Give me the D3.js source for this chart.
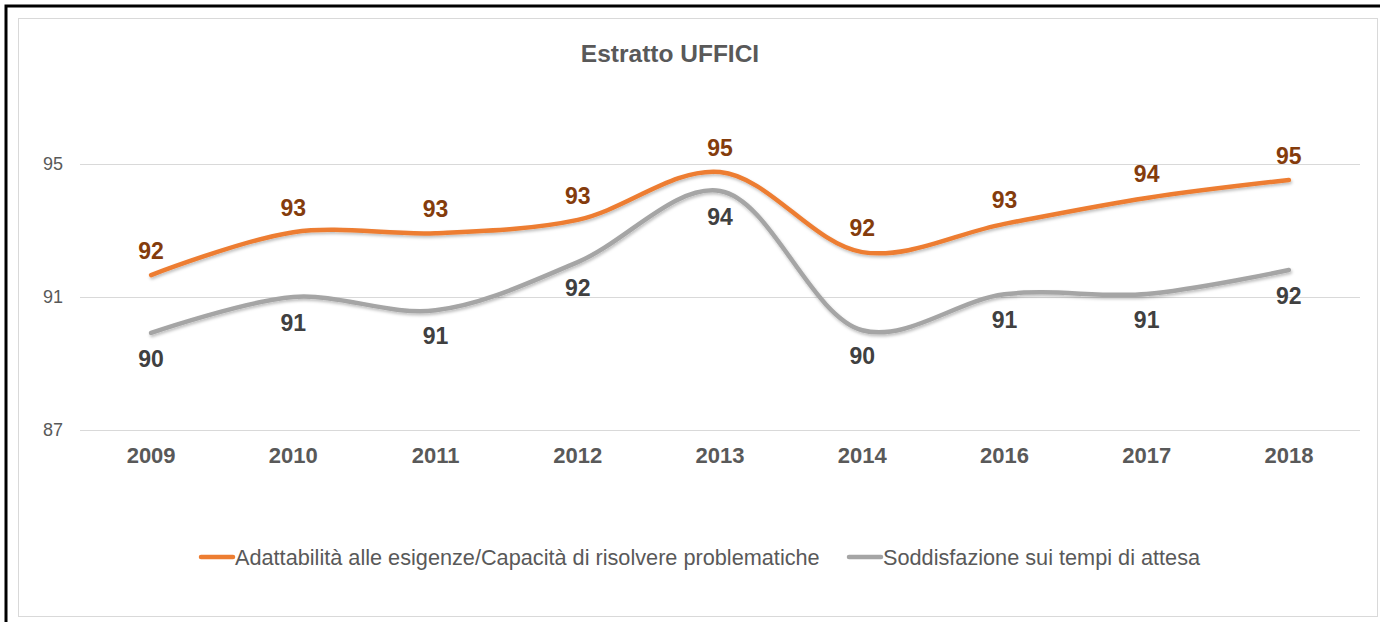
<!DOCTYPE html>
<html>
<head>
<meta charset="utf-8">
<script src="https://cdn.jsdelivr.net/npm/d3@7"></script>
<style>
  body { margin: 0; background: #fff; }
  svg { display: block; font-family: "Liberation Sans", Arial, sans-serif; }
</style>
</head>
<body>
<svg id="chart" width="1380" height="622"></svg>
<script>
var years = ['2009', '2010', '2011', '2012', '2013', '2014', '2016', '2017', '2018'];
var adattabilita = [91.66, 92.95, 92.92, 93.32, 94.76, 92.35, 93.2, 93.98, 94.52];
var soddisfazione = [89.92, 91.0, 90.6, 92.05, 94.19, 90.0, 91.08, 91.09, 91.81];
var yTicks = [87, 91, 95];
var seriesNames = [
  'Adattabilità alle esigenze/Capacità di risolvere problematiche',
  'Soddisfazione sui tempi di attesa'
];

var svg = d3.select('#chart');
var margin = { top: 164, right: 20, bottom: 192, left: 80 };
var width = 1360 - margin.left;
var height = 430 - margin.top;

// frames
svg.append('rect').attr('x', 6).attr('y', 6)
  .attr('width', 1400).attr('height', 640)
  .attr('fill', 'none').attr('stroke', '#000').attr('stroke-width', 3);
svg.append('rect').attr('x', 18.5).attr('y', 18.5)
  .attr('width', 1359).attr('height', 598)
  .attr('fill', '#fff').attr('stroke', '#d9d9d9').attr('stroke-width', 1);

var defs = svg.append('defs');
defs.append('filter').attr('id', 'shadow')
  .attr('x', '-5%').attr('y', '-20%').attr('width', '110%').attr('height', '140%')
  .append('feDropShadow')
  .attr('dx', 1).attr('dy', 2).attr('stdDeviation', 1.5)
  .attr('flood-color', '#000').attr('flood-opacity', 0.25);

var x = d3.scaleBand().domain(years).range([0, width]);
var y = d3.scaleLinear().domain([87, 95]).range([height, 0]);

var g = svg.append('g').attr('transform', 'translate(' + margin.left + ',' + margin.top + ')');

// gridlines
g.selectAll('.grid').data(yTicks).enter().append('line')
  .attr('x1', 0).attr('x2', width)
  .attr('y1', function(d) { return y(d) + 0.5; })
  .attr('y2', function(d) { return y(d) + 0.5; })
  .attr('stroke', '#d9d9d9').attr('stroke-width', 1);

var yAxis = g.append('g').attr('transform', 'translate(-17,0)')
  .call(d3.axisLeft(y).tickValues(yTicks).tickSize(0).tickPadding(0));
yAxis.select('.domain').remove();
yAxis.selectAll('text').attr('fill', '#595959')
  .style('font-size', '18px').style('font-family', '"Liberation Sans", Arial, sans-serif');

var xAxis = g.append('g').attr('transform', 'translate(0,' + height + ')')
  .call(d3.axisBottom(x).tickSize(0).tickPadding(17));
xAxis.select('.domain').remove();
xAxis.selectAll('text').attr('fill', '#595959')
  .style('font-size', '22px').style('font-weight', 'bold')
  .style('font-family', '"Liberation Sans", Arial, sans-serif');

var cx = function(i) { return x(years[i]) + x.bandwidth() / 2; };
var line = d3.line()
  .x(function(d, i) { return cx(i); })
  .y(function(d) { return y(d); })
  .curve(d3.curveCatmullRom.alpha(0.5));

var series = [
  { values: soddisfazione, color: '#a5a5a5', label: '#404040', dy: 34 },
  { values: adattabilita, color: '#ed7d31', label: '#843c0c', dy: -16 }
];

series.forEach(function(s) {
  g.append('path').datum(s.values)
    .attr('d', line)
    .attr('fill', 'none')
    .attr('stroke', s.color)
    .attr('stroke-width', 4.5)
    .attr('stroke-linecap', 'round')
    .attr('filter', 'url(#shadow)');
});

series.forEach(function(s) {
  g.selectAll(null).data(s.values).enter().append('text')
    .attr('x', function(d, i) { return cx(i); })
    .attr('y', function(d) { return y(d) + s.dy; })
    .attr('text-anchor', 'middle')
    .attr('fill', s.label)
    .style('font-size', '23px').style('font-weight', 'bold')
    .text(function(d) { return Math.round(d); });
});

// title
svg.append('text').attr('x', 670).attr('y', 62)
  .attr('text-anchor', 'middle').attr('fill', '#595959')
  .style('font-size', '24.5px').style('font-weight', 'bold')
  .text('Estratto UFFICI');

// legend
var legendX = [200, 848];
var legendColors = ['#ed7d31', '#a5a5a5'];
seriesNames.forEach(function(name, i) {
  var lg = svg.append('g').attr('transform', 'translate(' + legendX[i] + ',557)');
  lg.append('line').attr('x1', 1).attr('x2', 33).attr('y1', 0).attr('y2', 0)
    .attr('stroke', legendColors[i]).attr('stroke-width', 4.5).attr('stroke-linecap', 'round');
  lg.append('text').attr('x', 35).attr('y', 8)
    .attr('fill', '#595959').style('font-size', '21.7px').text(name);
});
</script>
</body>
</html>
